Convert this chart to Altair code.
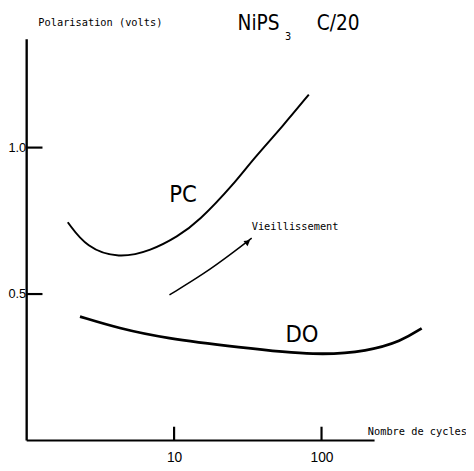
import altair as alt
import pandas as pd

# ---- data ----
pc_cycles = [1.9, 2.55, 4.2, 7.0, 10.6, 14.5, 25.9, 33.6, 55, 82]
pc_volts = [0.745, 0.658, 0.621, 0.648, 0.697, 0.745, 0.880, 0.955, 1.075, 1.181]

do_cycles = [2.3, 4.2, 8.7, 26.7, 95, 206, 347, 478]
do_volts = [0.423, 0.383, 0.349, 0.319, 0.289, 0.305, 0.339, 0.383]

arrow_cycles = [9.3, 16.1, 25.5, 33.6]
arrow_volts = [0.497, 0.570, 0.644, 0.691]

x_ticks = [10, 100]
y_ticks = [0.5, 1.0]

x_min, x_axis_end, x_max = 1, 229, 955
y_min, y_axis_end, y_max = 0, 1.37, 1.463

NARROW = "Liberation Sans Narrow, DejaVu Sans Condensed, Liberation Sans, sans-serif"
LIB = "Liberation Sans"
MONO = "DejaVu Sans Mono"

xs = alt.Scale(type="log", domain=[x_min, x_max], nice=False)
ys = alt.Scale(domain=[y_min, y_max], nice=False)
x_axis = alt.Axis(values=x_ticks, format="d", domain=False, ticks=False, grid=False,
                  labelFontSize=14, labelFont=LIB, labelColor="black",
                  labelPadding=10, title=None)
y_axis = alt.Axis(values=y_ticks, format=".1f", domain=False, ticks=False, grid=False,
                  labelFontSize=13, labelFont=LIB, labelColor="black",
                  labelPadding=1, title=None)


def X(f="x"):
    return alt.X(f"{f}:Q", scale=xs, axis=x_axis)


def Y(f="y"):
    return alt.Y(f"{f}:Q", scale=ys, axis=y_axis)


pc = pd.DataFrame({"x": pc_cycles, "y": pc_volts})
do = pd.DataFrame({"x": do_cycles, "y": do_volts})
arr = pd.DataFrame({"x": arrow_cycles, "y": arrow_volts})

pc_line = alt.Chart(pc).mark_line(color="black", strokeWidth=2, interpolate="basis").encode(x=X(), y=Y())
do_line = alt.Chart(do).mark_line(color="black", strokeWidth=2.8, interpolate="basis").encode(x=X(), y=Y())
arr_line = alt.Chart(arr).mark_line(color="black", strokeWidth=1.5, interpolate="basis").encode(x=X(), y=Y())
arr_head = alt.Chart(pd.DataFrame({"x": [31.6], "y": [0.678]})).mark_point(
    shape="triangle-up", filled=True, color="black", size=45, angle=52, opacity=1
).encode(x=X(), y=Y())

# axis lines
xaxis_line = alt.Chart(pd.DataFrame({"x": [x_min], "x2": [x_axis_end], "y": [y_min]})).mark_rule(
    color="black", strokeWidth=2.2).encode(x=X(), x2="x2:Q", y=Y())
yaxis_line = alt.Chart(pd.DataFrame({"x": [x_min], "y": [y_min], "y2": [y_axis_end]})).mark_rule(
    color="black", strokeWidth=2.4).encode(x=X(), y=Y(), y2="y2:Q")

# inward ticks
xt = alt.Chart(pd.DataFrame({"x": x_ticks, "y": [0, 0], "y2": [0.047, 0.047]})).mark_rule(
    color="black", strokeWidth=2.2).encode(x=X(), y=Y(), y2="y2:Q")
yt = alt.Chart(pd.DataFrame({"x": [1, 1], "x2": [1.28, 1.28], "y": y_ticks})).mark_rule(
    color="black", strokeWidth=2.2).encode(x=X(), x2="x2:Q", y=Y())

# texts
mono_txt = pd.DataFrame({
    "x": [1.2, 206, 33.6],
    "y": [1.426, 0.03, 0.728],
    "t": ["Polarisation (volts)", "Nombre de cycles", "Vieillissement"],
})
mono_layer = alt.Chart(mono_txt).mark_text(font=MONO, fontSize=10.5, align="left",
                                           baseline="middle", color="black").encode(
    x=X(), y=Y(), text="t:N")

big_txt = pd.DataFrame({
    "x": [37.4, 129.8, 11.5, 73.6],
    "y": [1.421, 1.421, 0.839, 0.359],
    "t": ["NiPS", "C/20", "PC", "DO"],
    "s": [21, 21, 24, 24],
})
big_layer = alt.Chart(big_txt).mark_text(font=NARROW, align="center", baseline="middle",
                                         color="black").encode(
    x=X(), y=Y(), text="t:N", size=alt.Size("s:Q", scale=None, legend=None))

sub_layer = alt.Chart(pd.DataFrame({"x": [59.3], "y": [1.378], "t": ["3"]})).mark_text(
    font=NARROW, fontSize=11, align="center", baseline="middle", color="black").encode(
    x=X(), y=Y(), text="t:N")

chart = alt.layer(
    xaxis_line, yaxis_line, xt, yt, pc_line, do_line, arr_line, arr_head,
    mono_layer, big_layer, sub_layer
).properties(
    width=447, height=436,
    autosize=alt.AutoSizeParams(type="none"),
    padding={"left": 19, "top": 0, "right": 0, "bottom": 27},
    background="white",
).configure_view(stroke=None)

chart.save("out.html", embed_options={"renderer": "svg", "actions": False})
